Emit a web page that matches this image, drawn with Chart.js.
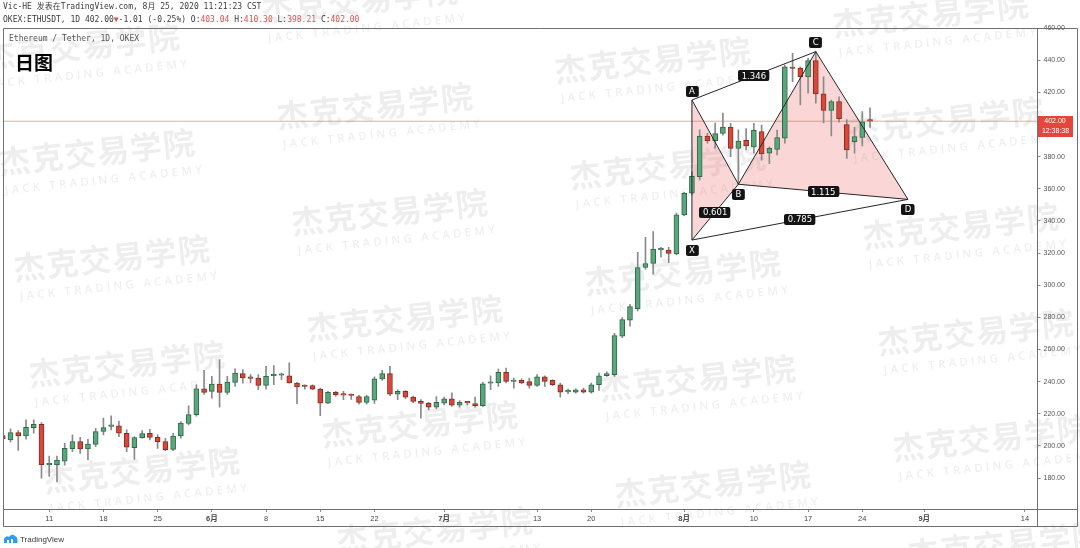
<!DOCTYPE html>
<html>
<head>
<meta charset="utf-8">
<script src="https://cdn.jsdelivr.net/npm/chart.js@4.4.0/dist/chart.umd.min.js"></script>
<style>
html,body{margin:0;padding:0;background:#fff;overflow:hidden}
#wrap{width:1080px;height:548px;position:relative}
</style>
</head>
<body>
<div id="wrap"><canvas id="c" width="1080" height="548"></canvas></div>
<script>
// ---- Data: ETH/USDT daily candles, 2020-05-05 .. 2020-08-25 (index 0 = May 5) ----
const opens  = [206.5,203.8,208.3,206.3,211.4,213.4,188.3,188.3,190.6,198.3,202.7,198.1,201.0,209.0,212.2,212.5,207.9,199.0,205.2,207.8,205.4,202.7,197.9,206.2,214.0,219.4,235.6,234.0,238.5,233.3,239.6,245.0,242.5,242.3,237.7,243.7,244.0,243.7,239.2,237.3,237.5,235.4,226.7,233.3,231.9,231.7,230.8,227.1,228.5,241.7,245.0,232.3,234.0,230.4,227.7,226.5,224.2,226.7,229.4,225.4,227.3,226.3,225.0,239.0,239.2,245.8,240.1,240.8,240.0,237.7,243.0,240.8,238.1,233.7,233.5,235.0,233.5,238.1,243.7,244.4,268.3,278.3,285.4,311.0,313.5,322.0,321.9,319.5,343.8,357.2,367.5,392.8,389.9,394.4,398.4,385.1,390.1,386.1,395.5,382.1,384.5,391.5,435.6,434.9,429.5,439.7,419.0,408.8,414.3,400.0,389.3,391.9,403.04];
const highs  = [207.5,210.6,209.6,216.3,216.3,214.5,193.7,193.7,201.7,206.9,205.4,204.2,211.0,217.3,218.7,215.5,210.0,205.8,209.6,210.4,206.9,204.8,207.9,215.2,225.0,238.0,247.0,243.3,253.7,243.3,248.0,247.5,244.4,244.4,249.6,250.0,245.4,251.7,239.6,238.1,238.1,236.0,234.0,234.0,234.0,232.5,231.5,231.5,243.0,247.0,249.6,235.0,234.5,231.0,228.8,227.1,230.8,230.4,233.0,228.3,227.7,230.4,239.6,243.7,247.9,248.5,242.3,241.7,242.3,244.4,243.7,241.2,239.2,235.4,235.6,236.0,239.2,245.4,246.2,270.0,279.8,288.1,320.4,329.8,333.3,323.5,323.5,344.8,357.8,370.7,396.6,394.5,400.8,407.0,400.7,396.6,397.5,400.7,399.6,386.1,396.5,437.0,444.3,435.9,441.2,445.3,429.7,415.1,417.2,403.0,398.2,408.0,410.30];
const lows   = [203.5,202.5,197.3,204.2,207.9,180.0,181.0,177.7,188.1,196.5,195.4,191.3,199.6,206.9,210.0,205.8,196.5,191.7,204.8,203.7,198.5,197.1,197.1,204.8,213.1,218.5,232.0,229.8,224.2,232.0,237.0,239.0,239.2,235.0,235.4,238.1,241.3,239.0,226.3,235.4,235.0,218.8,226.3,230.8,228.8,229.0,226.0,226.0,226.5,240.8,231.3,228.8,229.5,227.0,217.3,222.5,223.0,225.6,224.6,224.2,225.6,224.2,224.6,235.0,237.1,239.2,236.0,238.8,236.0,237.1,237.1,237.5,230.4,232.5,232.9,232.9,232.9,234.6,243.3,243.3,267.3,274.6,284.0,310.0,306.9,317.5,314.0,319.0,343.2,356.2,365.5,388.3,385.2,393.4,379.9,362.8,384.1,382.1,377.8,375.6,381.1,388.3,426.6,412.1,419.4,413.2,401.0,392.8,401.5,378.9,382.1,386.6,398.21];
const closes = [204.5,208.3,206.3,211.6,213.4,188.3,188.8,191.2,198.5,202.7,198.1,201.2,209.0,211.4,212.8,207.9,199.2,205.3,207.7,205.4,202.7,197.7,206.2,214.2,219.5,235.5,233.3,238.5,233.3,239.8,245.4,242.3,242.1,237.7,243.3,244.1,244.2,239.2,236.7,237.0,235.4,226.7,233.3,231.9,231.6,231.4,227.1,230.8,241.7,245.0,232.3,234.0,230.4,227.7,226.5,224.2,227.1,229.4,225.4,227.1,226.8,225.0,238.7,239.3,245.8,240.2,240.4,239.2,237.7,243.0,240.2,238.1,233.5,234.0,235.0,233.5,238.1,243.7,245.0,268.7,278.7,286.7,311.0,313.5,322.5,322.3,319.8,343.8,357.2,367.7,392.8,389.9,394.3,398.4,385.1,389.6,386.6,396.3,381.6,385.1,391.9,435.9,434.8,429.7,439.7,419.0,408.8,414.3,403.6,384.1,392.4,401.7,402.00];

// ---- Axis ticks ----
const timeTickDays   = [6,13,20,27,34,41,48,57,69,76,88,97,104,111,119,132];
const timeTickLabels = ['11','18','25','6月','8','15','22','7月','13','20','8月','10','17','24','9月','14'];
const monthTickLabels = ['6月','7月','8月','9月'];
const priceTicks = [180,200,220,240,260,280,300,320,340,360,380,400,420,440,460];
const xRange = [0.03, 133.5];
const yRange = [160.8, 460];

// ---- Harmonic pattern XABCD ----
const patternNames  = ['X','A','B','C','D'];
const patternDays   = [89, 89, 95, 105, 116.9];
const patternPrices = [328.1, 415.2, 362.8, 445.3, 353.4];
const patternAbove  = [false, true, false, true, false];
const patternSegments = [[0,1],[1,2],[2,3],[3,4],[0,2],[1,3],[2,4],[0,4]];
const ratioSegments = [[1,3],[0,2],[2,4],[0,4]];
const ratioLabels   = ['1.346','0.601','1.115','0.785'];
const patternTriangles = [[0,1,2],[2,3,4]];

// ---- Texts ----
const headerLine1 = 'Vic-HE 发表在TradingView.com, 8月 25, 2020 11:21:23 CST';
const headerLine2 = [['OKEX:ETHUSDT, 1D 402.00','d'],['▼','r'],['-1.01 (-0.25%) O:','d'],['403.04','r'],[' H:','d'],['410.30','r'],[' L:','d'],['398.21','r'],[' C:','d'],['402.00','r']];
const symbolTitle = 'Ethereum / Tether, 1D, OKEX';
const chartNote = '日图';
const countdown = '12:38:38';
const wmCN = '杰克交易学院';
const wmEN = 'JACK TRADING ACADEMY';

const GREEN = '#5ba67d', GREEN_B = '#2d6a48';
const RED = '#d8493c', RED_B = '#862c23';
const WICK = '#8a8a8a';
const lastClose = closes[closes.length - 1];

const pt = i => ({x: patternDays[i], y: patternPrices[i]});

const datasets = [];
patternTriangles.forEach(tri => {
  datasets.push({type:'line', data: tri.map(pt), fill:'shape', backgroundColor:'rgba(240,105,105,0.27)',
    borderWidth:0, pointRadius:0, order:20});
});
datasets.push({type:'line', data:[{x:xRange[0], y:lastClose},{x:xRange[1], y:lastClose}],
  borderColor:'rgba(236,86,86,0.55)', borderWidth:1, pointRadius:0, fill:false, order:15});
datasets.push({type:'bar', data: lows.map((l,i)=>({x:i, y:[l, highs[i]]})), grouped:false,
  barThickness:1, backgroundColor:WICK, borderWidth:0, order:6});
datasets.push({type:'bar', data: opens.map((o,i)=>({x:i, y:[o, closes[i]]})), grouped:false,
  barThickness:5, minBarLength:1.5, borderSkipped:false, borderWidth:1,
  backgroundColor: c => closes[c.dataIndex] >= opens[c.dataIndex] ? GREEN : RED,
  borderColor: c => closes[c.dataIndex] >= opens[c.dataIndex] ? GREEN_B : RED_B,
  order:5});
patternSegments.forEach(([a,b]) => {
  datasets.push({type:'line', data:[pt(a), pt(b)], borderColor:'#262626', borderWidth:1,
    pointRadius:0, fill:false, order:1});
});

function tag(ctx, text, cx, cy, minW) {
  ctx.font = '8.5px "DejaVu Sans"';
  const w = Math.max(minW, ctx.measureText(text).width + 7);
  const h = 11;
  ctx.fillStyle = '#141414';
  ctx.beginPath();
  ctx.roundRect(Math.round(cx - w/2), Math.round(cy - h/2), w, h, 2);
  ctx.fill();
  ctx.fillStyle = '#fff';
  ctx.textAlign = 'center';
  ctx.textBaseline = 'middle';
  ctx.fillText(text, cx, cy + 0.5);
}

const bgPlugin = {
  id:'bgwm',
  beforeDraw(chart) {
    const ctx = chart.ctx;
    ctx.save();
    ctx.fillStyle = '#fff';
    ctx.fillRect(0, 0, chart.width, chart.height);
    ctx.fillStyle = 'rgba(0,0,0,0.068)';
    ctx.textAlign = 'center';
    ctx.textBaseline = 'middle';
    for (let i = -1; i <= 4; i++) {
      for (let j = -2; j <= 6; j++) {
        const cx = 97 + 278*i + 15*j, cy = 152 - 46*i + 106*j;
        if (cx < -120 || cx > 1200 || cy < -40 || cy > 600) continue;
        ctx.save();
        ctx.translate(cx, cy);
        ctx.rotate(-6 * Math.PI / 180);
        ctx.font = 'bold 32px "Noto Sans CJK SC"';
        ctx.letterSpacing = '1px';
        ctx.fillText(wmCN, 0, 0);
        ctx.font = '600 11.5px "Open Sans"';
        ctx.letterSpacing = '3.2px';
        ctx.fillText(wmEN, 5, 29);
        ctx.restore();
      }
    }
    ctx.restore();
  },
  afterDatasetsDraw(chart) {
    const ctx = chart.ctx, xs = chart.scales.x, ys = chart.scales.y;
    ctx.save();
    patternNames.forEach((n, i) => {
      const px = xs.getPixelForValue(patternDays[i]);
      const py = ys.getPixelForValue(patternPrices[i]) + (patternAbove[i] ? -9 : 10);
      tag(ctx, n, px, py, 10);
    });
    ratioSegments.forEach(([a,b], i) => {
      const mx = (xs.getPixelForValue(patternDays[a]) + xs.getPixelForValue(patternDays[b])) / 2;
      const my = (ys.getPixelForValue(patternPrices[a]) + ys.getPixelForValue(patternPrices[b])) / 2;
      tag(ctx, ratioLabels[i], mx, my, 26);
    });
    ctx.restore();
  },
  afterDraw(chart) {
    const ctx = chart.ctx, ys = chart.scales.y;
    const {left, right, top, bottom} = chart.chartArea;
    ctx.save();
    ctx.strokeStyle = '#707070';
    ctx.lineWidth = 1;
    const L = Math.round(left) + 0.5, R = Math.round(right) + 0.5, T = Math.round(top) + 0.5;
    const B = Math.round(bottom) + 0.5, BB = 526.5, RR = 1077.5;
    ctx.beginPath();
    ctx.moveTo(L, T); ctx.lineTo(RR, T);
    ctx.moveTo(L, T); ctx.lineTo(L, BB);
    ctx.moveTo(R, T); ctx.lineTo(R, BB);
    ctx.moveTo(RR, T); ctx.lineTo(RR, BB);
    ctx.moveTo(L, B); ctx.lineTo(RR, B);
    ctx.moveTo(L, BB); ctx.lineTo(RR, BB);
    ctx.stroke();

    ctx.textBaseline = 'middle';
    ctx.textAlign = 'left';
    ctx.font = '8px "DejaVu Sans Mono", "Noto Sans CJK SC"';
    ctx.fillStyle = '#3c3c3c';
    ctx.fillText(headerLine1, 3, 7);
    let x = 3;
    headerLine2.forEach(([t, c]) => {
      ctx.fillStyle = c === 'r' ? '#e0504f' : '#3c3c3c';
      ctx.fillText(t, x, 20);
      x += ctx.measureText(t).width;
    });
    ctx.fillStyle = '#555';
    ctx.fillText(symbolTitle, 9, 38.5);
    ctx.fillStyle = '#000';
    ctx.font = 'bold 19px "Noto Sans CJK SC"';
    ctx.fillText(chartNote, 15, 63);

    const py = ys.getPixelForValue(lastClose);
    ctx.fillStyle = '#e2473b';
    ctx.fillRect(1038, Math.round(py) - 5, 35, 21);
    ctx.fillStyle = '#fff';
    ctx.font = '7px "Liberation Sans"';
    ctx.textAlign = 'center';
    ctx.fillText(lastClose.toFixed(2), 1055, py);
    ctx.fillText(countdown, 1055.5, py + 10);

    ctx.fillStyle = '#2a9df4';
    ctx.beginPath();
    ctx.moveTo(4, 543); ctx.lineTo(4, 539); ctx.quadraticCurveTo(6, 535, 9, 537);
    ctx.quadraticCurveTo(12, 533, 15, 536); ctx.quadraticCurveTo(18, 537, 17.5, 543);
    ctx.closePath(); ctx.fill();
    ctx.fillStyle = '#fff';
    ctx.fillRect(7, 540, 2, 3); ctx.fillRect(11, 539, 2, 4);
    ctx.fillStyle = '#3a3a3a';
    ctx.font = '8px "Liberation Sans"';
    ctx.textAlign = 'left';
    ctx.fillText('TradingView', 20, 539.5);
    ctx.restore();
  }
};

new Chart(document.getElementById('c'), {
  type: 'bar',
  data: { datasets },
  options: {
    responsive: false,
    animation: false,
    events: [],
    devicePixelRatio: 1,
    layout: { padding: { left: 3, top: 28, right: 3, bottom: 22 } },
    plugins: { legend: { display: false }, tooltip: { enabled: false } },
    scales: {
      x: {
        type: 'linear', min: xRange[0], max: xRange[1], offset: false,
        afterFit: s => { s.height = 17; },
        afterBuildTicks: s => { s.ticks = timeTickDays.map(v => ({ value: v })); },
        ticks: {
          autoSkip: false, maxRotation: 0, padding: 2, color: '#474747',
          callback: (v, i) => timeTickLabels[i],
          font: c => ({ family: '"Liberation Sans", "Noto Sans CJK SC"', size: 7.5,
            weight: monthTickLabels.includes(timeTickLabels[c.index]) ? 'bold' : 'normal' })
        },
        grid: { display: true, drawOnChartArea: false, drawTicks: true, tickLength: 3, color: '#8a8a8a', offset: false },
        border: { display: false }
      },
      y: {
        type: 'linear', position: 'right', min: yRange[0], max: yRange[1], beginAtZero: false,
        afterFit: s => { s.width = 40.5; },
        afterBuildTicks: s => { s.ticks = priceTicks.map(v => ({ value: v })); },
        ticks: { padding: 3, color: '#555', font: { family: '"Liberation Sans"', size: 7 },
          callback: v => Number(v).toFixed(2) },
        grid: { display: true, drawOnChartArea: false, drawTicks: true, tickLength: 4, color: '#8a8a8a' },
        border: { display: false }
      }
    }
  },
  plugins: [bgPlugin]
});
</script>
</body>
</html>
